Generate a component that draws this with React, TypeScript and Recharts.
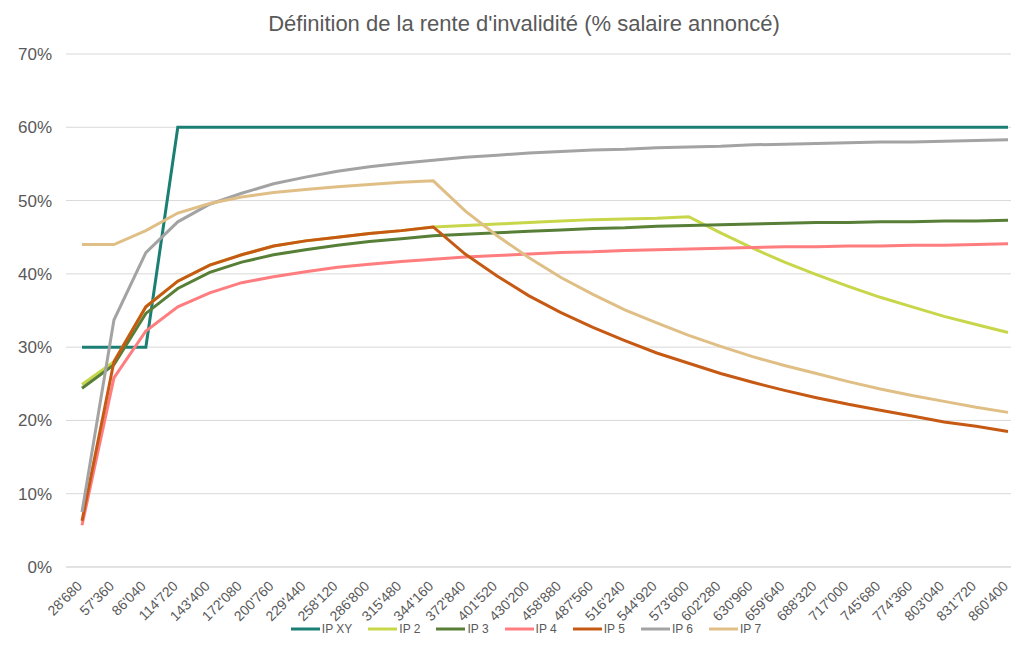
import React from "react";
import { LineChart, Line, XAxis, YAxis, CartesianGrid, Legend } from "recharts";

// Announced salary (CHF)
const salaries = [
  "28'680", "57'360", "86'040", "114'720", "143'400", "172'080", "200'760", "229'440",
  "258'120", "286'800", "315'480", "344'160", "372'840", "401'520", "430'200", "458'880",
  "487'560", "516'240", "544'920", "573'600", "602'280", "630'960", "659'640", "688'320",
  "717'000", "745'680", "774'360", "803'040", "831'720", "860'400",
];

// Disability pension as % of the announced salary, one array per plan
const ipXY = [30, 30, 30, 60, 60, 60, 60, 60, 60, 60, 60, 60, 60, 60, 60, 60, 60, 60, 60, 60, 60, 60, 60, 60, 60, 60, 60, 60, 60, 60];
const ip2 = [24.9, 28.0, 35.5, 39.0, 41.2, 42.6, 43.8, 44.5, 45.0, 45.5, 45.9, 46.4, 46.6, 46.8, 47.0, 47.2, 47.4, 47.5, 47.6, 47.8, 45.6, 43.5, 41.6, 39.9, 38.3, 36.8, 35.5, 34.2, 33.1, 32.0];
const ip3 = [24.4, 27.6, 34.6, 38.0, 40.2, 41.6, 42.6, 43.3, 43.9, 44.4, 44.8, 45.2, 45.4, 45.6, 45.8, 46.0, 46.2, 46.3, 46.5, 46.6, 46.7, 46.8, 46.9, 47.0, 47.0, 47.1, 47.1, 47.2, 47.2, 47.3];
const ip4 = [5.7, 25.8, 32.2, 35.5, 37.4, 38.8, 39.6, 40.3, 40.9, 41.3, 41.7, 42.0, 42.3, 42.5, 42.7, 42.9, 43.0, 43.2, 43.3, 43.4, 43.5, 43.6, 43.7, 43.7, 43.8, 43.8, 43.9, 43.9, 44.0, 44.1];
const ip5 = [6.3, 28.0, 35.5, 39.0, 41.2, 42.6, 43.8, 44.5, 45.0, 45.5, 45.9, 46.4, 42.7, 39.7, 37.0, 34.7, 32.7, 30.9, 29.2, 27.8, 26.4, 25.2, 24.1, 23.1, 22.2, 21.4, 20.6, 19.8, 19.2, 18.5];
const ip6 = [7.5, 33.7, 42.9, 47.1, 49.5, 51.0, 52.3, 53.2, 54.0, 54.6, 55.1, 55.5, 55.9, 56.2, 56.5, 56.7, 56.9, 57.0, 57.2, 57.3, 57.4, 57.6, 57.7, 57.8, 57.9, 58.0, 58.0, 58.1, 58.2, 58.3];
const ip7 = [44.0, 44.0, 45.9, 48.3, 49.6, 50.5, 51.1, 51.5, 51.9, 52.2, 52.5, 52.7, 48.6, 45.2, 42.2, 39.5, 37.2, 35.1, 33.3, 31.6, 30.1, 28.7, 27.5, 26.4, 25.3, 24.3, 23.4, 22.6, 21.8, 21.1];

const yTicks = [0, 10, 20, 30, 40, 50, 60, 70];

const series = [
  { key: "IP XY", values: ipXY, color: "#1b7f74" },
  { key: "IP 2", values: ip2, color: "#c8d64a" },
  { key: "IP 3", values: ip3, color: "#577f37" },
  { key: "IP 4", values: ip4, color: "#ff7d7f" },
  { key: "IP 5", values: ip5, color: "#c65a14" },
  { key: "IP 6", values: ip6, color: "#a3a3a3" },
  { key: "IP 7", values: ip7, color: "#e0bf86" },
];

const data = salaries.map((s, i) => {
  const row: Record<string, string | number> = { salary: s };
  series.forEach((sr) => {
    row[sr.key] = sr.values[i];
  });
  return row;
});

const FONT = "'Liberation Sans', Arial, sans-serif";
const TEXT = "#595959";

const XTick = (props: any) => {
  const { x, y, payload } = props;
  const ax = x + 1;
  const ay = y + 20;
  return (
    <text
      x={ax}
      y={ay}
      transform={`rotate(-45 ${ax} ${ay})`}
      textAnchor="end"
      fill={TEXT}
      fontSize={14}
      fontFamily={FONT}
    >
      {payload.value}
    </text>
  );
};

// Legend keeps the series order
const LegendContent = () => (
  <div style={{ display: "flex", justifyContent: "center", alignItems: "center", gap: 16, fontFamily: FONT, fontSize: 12, color: TEXT }}>
    {series.map((sr) => (
      <div key={sr.key} style={{ display: "flex", alignItems: "center" }}>
        <svg width={29} height={4} style={{ display: "block" }}>
          <line x1={0} y1={2} x2={29} y2={2} stroke={sr.color} strokeWidth={3} />
        </svg>
        <span style={{ marginLeft: 2, lineHeight: "16px" }}>{sr.key}</span>
      </div>
    ))}
  </div>
);

export default function App() {
  return (
    <div style={{ position: "absolute", left: 0, top: 0, width: 1011, height: 661, overflow: "hidden", background: "#fff" }}>
      <div
        style={{
          position: "absolute",
          left: 0,
          width: 1048,
          top: 10,
          textAlign: "center",
          fontFamily: FONT,
          fontSize: 22,
          color: TEXT,
          lineHeight: "28px",
        }}
      >
        Définition de la rente d'invalidité (% salaire annoncé)
      </div>
      <LineChart width={1040} height={661} data={data} margin={{ top: 54, right: 16, left: 0, bottom: 0 }}>
        <CartesianGrid vertical={false} stroke="#d9d9d9" strokeWidth={1} />
        <XAxis
          dataKey="salary"
          interval={0}
          tick={<XTick />}
          tickLine={false}
          tickSize={0}
          tickMargin={0}
          axisLine={{ stroke: "#d9d9d9" }}
          height={94}
          padding={{ left: 16, right: 16 }}
        />
        <YAxis
          domain={[0, 70]}
          ticks={yTicks}
          tickFormatter={(v: number) => `${v}%`}
          axisLine={false}
          tickLine={false}
          tickSize={0}
          tickMargin={14}
          width={66}
          tick={{ fill: TEXT, fontSize: 17, fontFamily: FONT }}
        />
        <Legend
          layout="horizontal"
          verticalAlign="middle"
          align="center"
          wrapperStyle={{ top: 621, left: 0, width: 1052 }}
          content={<LegendContent />}
        />
        {series.map((sr) => (
          <Line
            key={sr.key}
            type="linear"
            dataKey={sr.key}
            stroke={sr.color}
            strokeWidth={3}
            dot={false}
            activeDot={false}
            isAnimationActive={false}
          />
        ))}
      </LineChart>
    </div>
  );
}
